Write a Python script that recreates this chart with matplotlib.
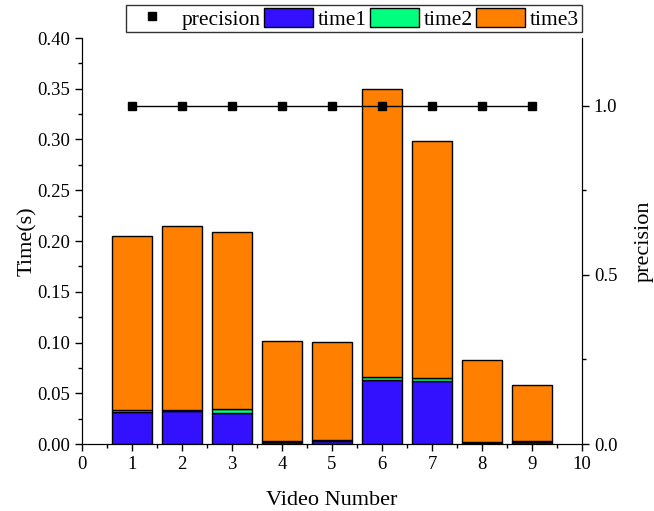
import matplotlib
matplotlib.use("Agg")
import matplotlib.pyplot as plt
from matplotlib.lines import Line2D
from matplotlib.patches import Patch
from matplotlib.ticker import MultipleLocator

plt.rcParams["font.family"] = ["Liberation Serif", "DejaVu Serif"]

# data
videos = [1, 2, 3, 4, 5, 6, 7, 8, 9]
time1 = [0.0315, 0.0325, 0.031, 0.002, 0.003, 0.063, 0.0625, 0.001, 0.002]
time2 = [0.002, 0.001, 0.003, 0.0005, 0.001, 0.003, 0.0025, 0.0005, 0.0005]
total = [0.205, 0.215, 0.209, 0.1015, 0.1005, 0.350, 0.2985, 0.0828, 0.058]
time3 = [t - a - b for t, a, b in zip(total, time1, time2)]
precision = [1.0] * 9

c1, c2, c3 = "#3311ff", "#00ff7f", "#ff7f00"

fig = plt.figure(figsize=(6.54, 5.11), dpi=100)
ax = fig.add_axes([82 / 654, 67 / 511, 500 / 654, 406 / 511])

bottom2 = [a for a in time1]
bottom3 = [a + b for a, b in zip(time1, time2)]
ax.bar(videos, time1, width=0.8, color=c1, edgecolor="black", linewidth=1)
ax.bar(videos, time2, width=0.8, bottom=bottom2, color=c2, edgecolor="black", linewidth=1)
ax.bar(videos, time3, width=0.8, bottom=bottom3, color=c3, edgecolor="black", linewidth=1)

ax.set_xlim(0, 10)
ax.set_ylim(0, 0.40)
ax.xaxis.set_major_locator(MultipleLocator(1))
ax.xaxis.set_minor_locator(MultipleLocator(0.5))
ax.yaxis.set_major_locator(MultipleLocator(0.05))
ax.yaxis.set_minor_locator(MultipleLocator(0.025))
ax.yaxis.set_major_formatter(matplotlib.ticker.FormatStrFormatter("%.2f"))
ax.tick_params(which="both", direction="out", labelsize=13.5, width=1)
ax.tick_params(which="major", length=5)
ax.tick_params(which="minor", length=3)
ax.set_xlabel("Video Number", fontsize=16, labelpad=13)
ax.set_ylabel("Time(s)", fontsize=16)
ax.yaxis.set_label_coords(-0.09, 0.5)
ax.spines["top"].set_visible(False)

ax2 = ax.twinx()
ax2.plot(videos, precision, color="black", linewidth=1, marker="s", markersize=6)
ax2.set_ylim(0, 1.2)
ax2.yaxis.set_major_locator(MultipleLocator(0.5))
ax2.yaxis.set_minor_locator(MultipleLocator(0.25))
ax2.yaxis.set_major_formatter(matplotlib.ticker.FormatStrFormatter("%.1f"))
ax2.tick_params(which="both", direction="out", labelsize=13.5, width=1)
ax2.tick_params(which="major", length=5)
ax2.tick_params(which="minor", length=3)
ax2.set_ylabel("precision", fontsize=16)
ax2.yaxis.set_label_coords(1.106, 0.5)
ax2.spines["top"].set_visible(False)

handles = [
    Line2D([], [], color="black", marker="s", linestyle="none", markersize=6),
    Patch(facecolor=c1, edgecolor="black"),
    Patch(facecolor=c2, edgecolor="black"),
    Patch(facecolor=c3, edgecolor="black"),
]
leg = fig.legend(handles, ["precision", "time1", "time2", "time3"],
                 loc="upper right", bbox_to_anchor=(582 / 654, 1 - 5 / 511),
                 ncol=4, fontsize=15.5, frameon=True, fancybox=False,
                 handlelength=2.25, handleheight=1.0, handletextpad=0.25,
                 columnspacing=0.15, borderpad=0.12, borderaxespad=0)
leg.get_frame().set_edgecolor("black")
leg.get_frame().set_linewidth(1)

fig.savefig("out.png", dpi=100)
